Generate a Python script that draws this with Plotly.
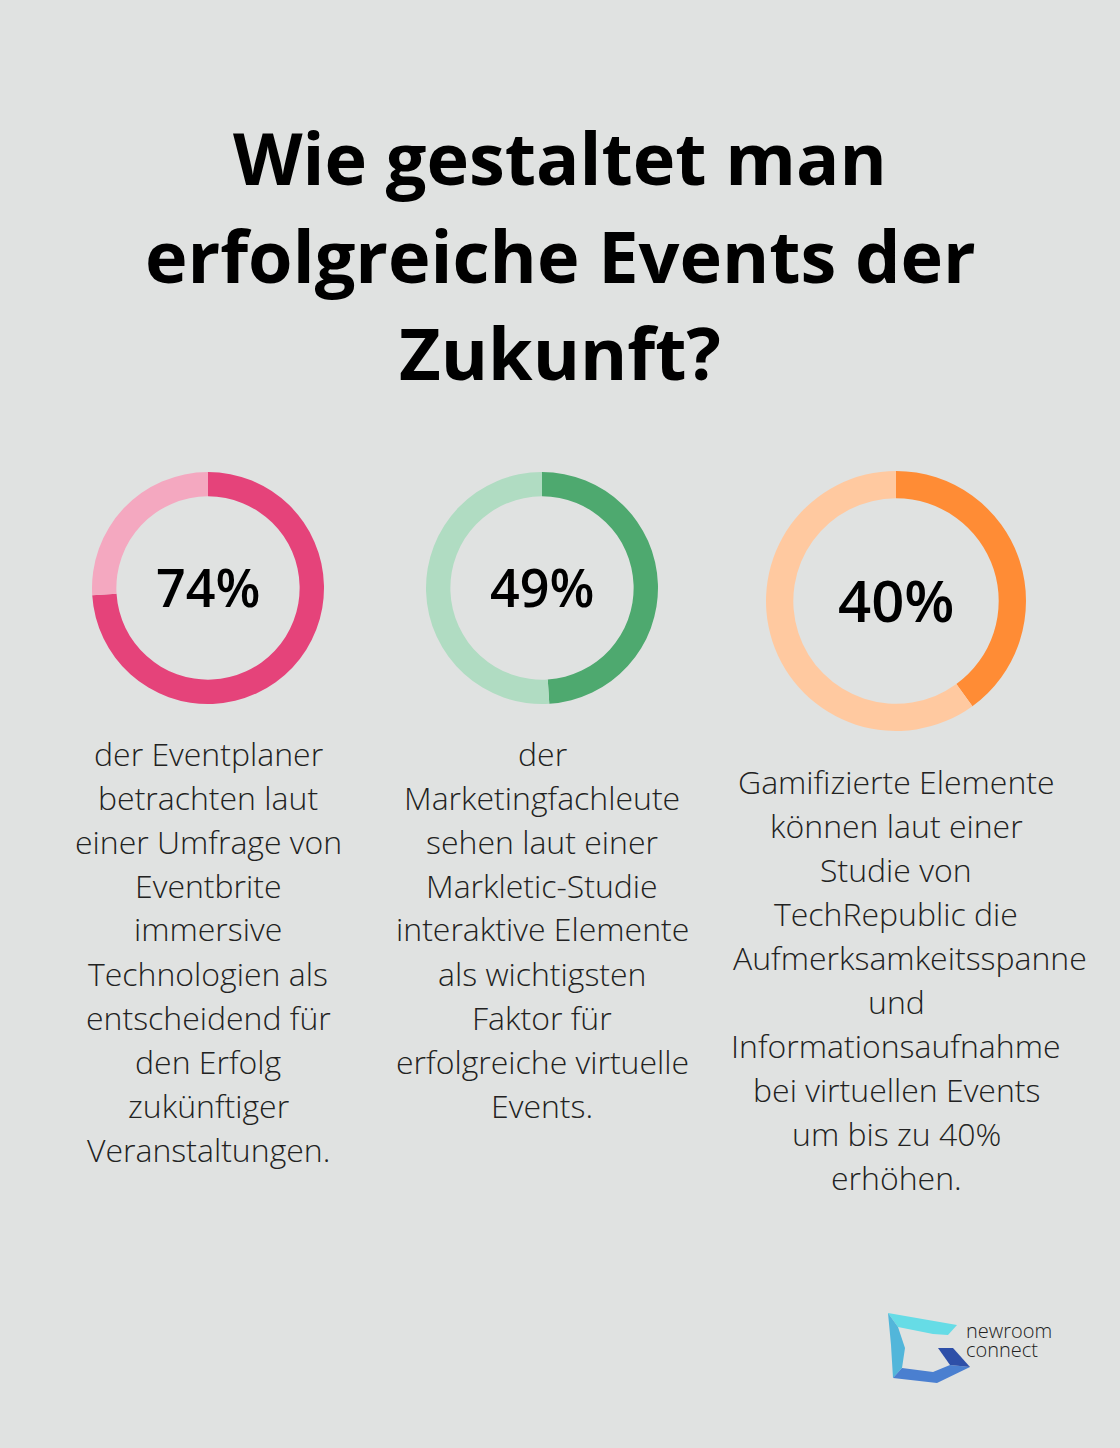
import plotly.graph_objects as go

W, H = 1120, 1448
BG = "#E0E2E1"

# ---- data ----
percent_values = [74, 49, 40]
percent_labels = ["74%", "49%", "40%"]
dark_colors = ["#E5437A", "#4EA96F", "#FF8C35"]
light_colors = ["#F4A8C0", "#B0DCC2", "#FFC9A0"]

title_lines = ["Wie gestaltet man", "erfolgreiche Events der", "Zukunft?"]

desc_1 = ["der Eventplaner", "betrachten laut", "einer Umfrage von", "Eventbrite",
          "immersive", "Technologien als", "entscheidend für", "den Erfolg",
          "zukünftiger", "Veranstaltungen."]
desc_2 = ["der", "Marketingfachleute", "sehen laut einer", "Markletic-Studie",
          "interaktive Elemente", "als wichtigsten", "Faktor für",
          "erfolgreiche virtuelle", "Events."]
desc_3 = ["Gamifizierte Elemente", "können laut einer", "Studie von",
          "TechRepublic die", "Aufmerksamkeitsspanne", "und",
          "Informationsaufnahme", "bei virtuellen Events", "um bis zu 40%",
          "erhöhen."]
descriptions = [desc_1, desc_2, desc_3]

# ---- layout (pixel geometry) ----
centers = [(208, 588), (542, 588), (896, 601)]
radii = [116, 116, 130]
hole = 0.79
desc_top = [753, 753, 781]
line_step = 44
pct_sizes = [52, 52, 58]
col_left_limit = [None, None, 731]   # overflowing lines start at this left edge
col_max_width = [None, None, 330]


def px(x):
    return x / W


def py(y):
    return 1 - y / H


fig = go.Figure()

for i, v in enumerate(percent_values):
    cx, cy = centers[i]
    r = radii[i]
    fig.add_trace(go.Pie(
        values=[v, 100 - v],
        marker=dict(colors=[dark_colors[i], light_colors[i]], line=dict(width=0)),
        hole=hole,
        sort=False,
        direction="clockwise",
        rotation=0,
        textinfo="none",
        hoverinfo="skip",
        showlegend=False,
        domain=dict(x=[px(cx - r), px(cx + r)], y=[py(cy + r), py(cy - r)]),
    ))

annotations = []
# title
title_y = [157, 255, 352]
for line, y in zip(title_lines, title_y):
    annotations.append(dict(
        text=line, x=0.5, y=py(y), xref="paper", yref="paper",
        xanchor="center", yanchor="middle", showarrow=False,
        font=dict(family="Open Sans", size=72, color="#000000", weight=700),
    ))

# percentages
for i, lab in enumerate(percent_labels):
    cx, cy = centers[i]
    annotations.append(dict(
        text=lab, x=px(cx), y=py(cy - 2), xref="paper", yref="paper",
        xanchor="center", yanchor="middle", showarrow=False,
        font=dict(family="Open Sans", size=pct_sizes[i], color="#000000", weight=600),
    ))

# descriptions
for i, lines in enumerate(descriptions):
    cx, _ = centers[i]
    for j, line in enumerate(lines):
        x, anchor = px(cx), "center"
        if col_max_width[i] and len(line) >= 21 and line == "Aufmerksamkeitsspanne":
            x, anchor = px(col_left_limit[i]), "left"
        annotations.append(dict(
            text=line, x=x, y=py(desc_top[i] + j * line_step),
            xref="paper", yref="paper", xanchor=anchor, yanchor="middle",
            showarrow=False,
            font=dict(family="Open Sans", size=32, color="#222222", weight=300),
        ))

# logo text
for txt, y in [("newroom", 1330), ("connect", 1349)]:
    annotations.append(dict(
        text=txt, x=px(965), y=py(y), xref="paper", yref="paper",
        xanchor="left", yanchor="middle", showarrow=False, borderpad=0,
        font=dict(family="Open Sans", size=20, color="#222222", weight=300),
    ))

# logo shapes
def poly(pts, color):
    d = "M " + " L ".join(f"{px(x)},{py(y)}" for x, y in pts) + " Z"
    return dict(type="path", path=d, xref="paper", yref="paper",
                fillcolor=color, line=dict(width=0), layer="above")

shapes = [
    poly([(888, 1313), (957, 1325), (948, 1335), (933, 1334), (898, 1327)], "#66DCE6"),
    poly([(888, 1313), (898, 1327), (905, 1348), (902, 1368), (893, 1378), (891, 1345)], "#52B6DA"),
    poly([(893, 1378), (902, 1368), (933, 1372), (950, 1365), (970, 1367), (937, 1383)], "#4A7FD0"),
    poly([(938, 1348), (953, 1348), (970, 1367), (950, 1365)], "#2E4FA8"),
]

fig.update_layout(
    width=W, height=H,
    margin=dict(l=0, r=0, t=0, b=0),
    paper_bgcolor=BG, plot_bgcolor=BG,
    annotations=annotations,
    shapes=shapes,
)

fig.write_html(
    "out.html",
    config={"displayModeBar": False},
    post_script="document.body.style.margin='0';document.body.style.background='" + BG + "';",
)
